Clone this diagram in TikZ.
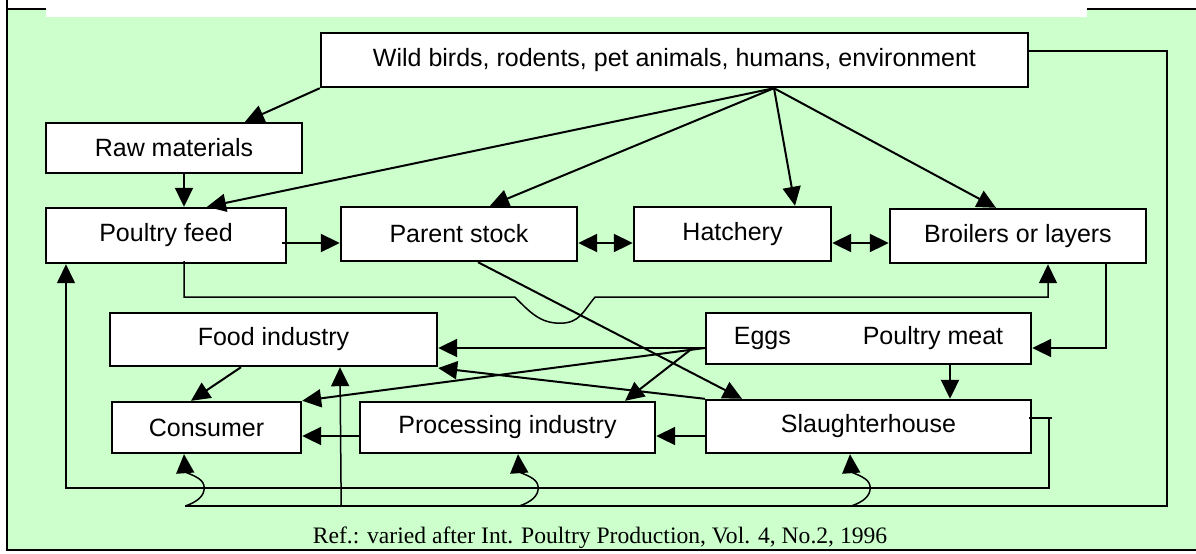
\documentclass[tikz,border=0pt]{standalone}
\usepackage{fontspec}
\setmainfont{Liberation Sans}
\newfontfamily\reffont{Liberation Serif}
\usetikzlibrary{arrows.meta,calc}
\definecolor{bggreen}{HTML}{CCFFCC}
\begin{document}
\begin{tikzpicture}[x=0.5pt,y=-0.5pt,
  box/.style={draw, line width=1.2pt, fill=white, inner sep=0pt, font=\fontsize{12.5}{14}\selectfont},
  arr/.style={line width=1pt, -{Triangle[length=9.5pt,width=9pt]}},
  darr/.style={line width=1pt, {Triangle[length=9.5pt,width=9pt]}-{Triangle[length=9.5pt,width=9pt]}},
  thinln/.style={line width=0.75pt},
  tarr/.style={line width=0.75pt, -{Triangle[length=9.5pt,width=9pt]}}]
\useasboundingbox (0,0) rectangle (1196,553);
\fill[white] (0,0) rectangle (1196,553);
\fill[bggreen] (7,9) -- (46,9) -- (46,17) -- (1087,17) -- (1087,9) -- (1196,9) -- (1196,550) -- (7,550) -- cycle;
\draw[line width=1pt] (7,0) -- (7,551);
\draw[line width=1pt] (6,550) -- (1196,550);
\draw[line width=1pt] (7,9) -- (46,9);
\draw[line width=1pt] (1087,9) -- (1196,9);

% boxes
\node[box, minimum width=353.5pt, minimum height=27pt] (wild) at (674.5,60) {Wild birds, rodents, pet animals, humans, environment};
\node[box, minimum width=128pt, minimum height=25pt] (raw) at (174,148) {Raw materials};
\node[box, minimum width=120pt, minimum height=27.5pt] (feed) at (166,235.5) {Poultry feed};
\node[box, minimum width=118pt, minimum height=27pt] (parent) at (459,234) {Parent stock};
\node[box, minimum width=98.5pt, minimum height=27pt] (hatch) at (732.5,234) {Hatchery};
\node[box, minimum width=128pt, minimum height=27pt] (broil) at (1018,236) {Broilers or layers};
\node[box, minimum width=163.5pt, minimum height=26.5pt] (food) at (273.5,339.5) {Food industry};
\node[box, minimum width=162.5pt, minimum height=25.5pt] (eggs) at (868.5,338.5) {Eggs\hspace{36pt}Poultry meat};
\node[box, minimum width=94.5pt, minimum height=25.5pt] (cons) at (206.5,427.5) {Consumer};
\node[box, minimum width=147.5pt, minimum height=25.5pt] (proc) at (507.5,427.5) {Processing industry};
\node[box, minimum width=162.5pt, minimum height=26.5pt] (slau) at (868.5,426.5) {Slaughterhouse};

\node[font=\reffont\fontsize{11.8}{14}\selectfont] (ref) at (600,538) {Ref.: varied after Int. Poultry Production, Vol. 4, No.2, 1996};

% top connectors
\coordinate (w0) at ([xshift=49.75pt]wild.south);
\draw[arr] (wild.south west) -- ([xshift=35.5pt]raw.north);
\draw[arr] (w0) -- ([xshift=20.5pt]feed.north);
\draw[arr] (w0) -- ([xshift=15.5pt]parent.north);
\draw[arr] (w0) -- ([xshift=31.25pt]hatch.north);
\draw[arr] (w0) -- ([xshift=-11pt]broil.north);
\draw[arr] ([xshift=5pt]raw.south) -- ([xshift=9pt]feed.north);
\draw[arr] ([shift={(-2.5pt,-3.75pt)}]feed.east) coordinate (fe) -- (fe -| parent.west);
\draw[darr] ([yshift=-4.5pt]parent.east) -- ([yshift=-4.5pt]hatch.west);
\draw[darr] ([yshift=-4.5pt]hatch.east) coordinate (he) -- (he -| broil.west);

% feed -> broilers with hop
\draw[tarr] ([shift={(9pt,1.5pt)}]feed.south) -- ++(0,36) -- ++(331,0)
  .. controls +(15,15) and +(-20,0) .. ++(45,26)
  .. controls +(20,0) and +(-12,14) .. ++(35,-26)
  -| ([xshift=15pt]broil.south);

% middle connectors
\draw[arr] ([xshift=44pt]broil.south) |- ([yshift=-4.75pt]eggs.east);
\draw[arr] ([xshift=40.75pt]eggs.south) coordinate (es) -- (es |- slau.north);
\draw[arr] ([xshift=9.5pt]parent.south) -- ([xshift=-63.25pt]slau.north);
\coordinate (ew) at ([yshift=-4.75pt]eggs.west);
\draw[arr] (ew) -- (ew -| food.east);
\draw[arr] (ew) -- (cons.north east);
\draw[arr] ([xshift=-6pt]ew) -- ([xshift=58.75pt]proc.north);
\draw[arr] (slau.north west) -- ([yshift=-14.25pt]food.east);
\draw[arr] ([yshift=-4.75pt]slau.west) coordinate (sw) -- (sw -| proc.east);
\draw[arr] ([yshift=-4.25pt]proc.west) coordinate (pw) -- (pw -| cons.east);
\draw[arr] ([xshift=-16.25pt]food.south) -- ([xshift=-7.75pt]cons.north);

% slaughterhouse -> poultry feed loop
\draw[thinln] ([shift={(-1.5pt,4.25pt)}]slau.east) -- ++(23,0);
\draw[tarr] ([shift={(8.5pt,4.25pt)}]slau.east) -- ++(0,70) -| ([xshift=-50pt]feed.south);

% wild -> lower loop
\draw[thinln] ([yshift=4.5pt]wild.east) -- ++(138,0) -- ++(0,455) -- ++(-982,0) coordinate (bl);
\draw[tarr] (bl) .. controls +(12,-4) and +(0,8) .. ++(19,-18)
  .. controls +(0,-8) and +(12,5) .. ++(-19,-16) -- ([xshift=-11.25pt]cons.south);
\draw[tarr] ([xshift=167pt]bl) .. controls +(12,-4) and +(0,8) .. ++(19,-18)
  .. controls +(0,-8) and +(12,5) .. ++(-19,-16) -- ([xshift=5.25pt]proc.south);
\draw[tarr] ([xshift=333pt]bl) .. controls +(12,-4) and +(0,8) .. ++(19,-18)
  .. controls +(0,-8) and +(12,5) .. ++(-19,-16) -- ([xshift=-9.25pt]slau.south);
\draw[tarr] ([xshift=78pt]bl) -- ([xshift=33.25pt]food.south);
\end{tikzpicture}
\end{document}
